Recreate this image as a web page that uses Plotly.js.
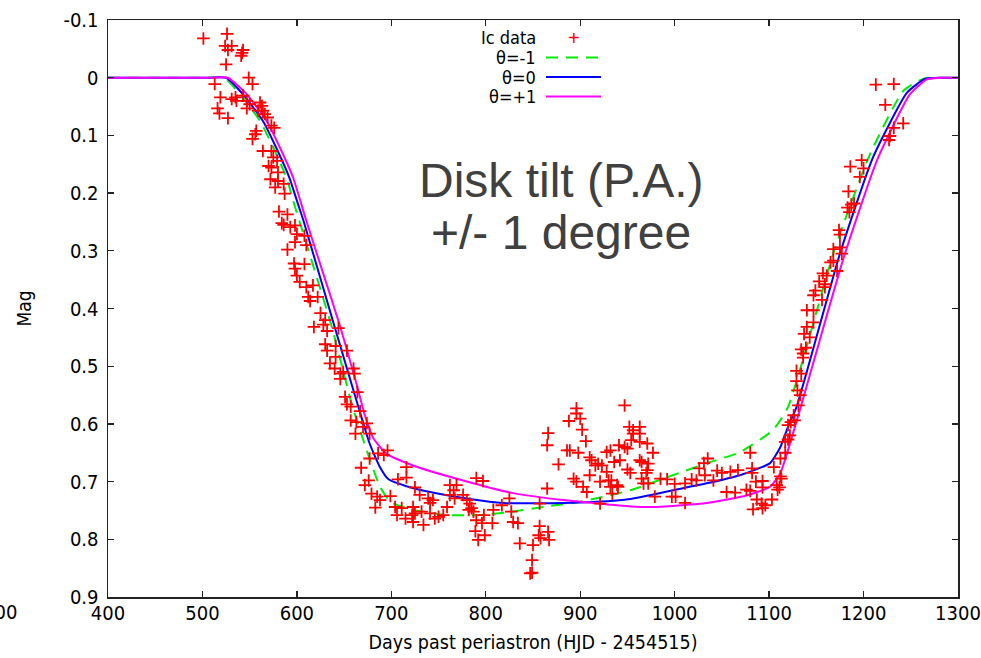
<!DOCTYPE html>
<html>
<head>
<meta charset="utf-8">
<script src="https://cdn.plot.ly/plotly-3.0.1.min.js"></script>
<style>
  html, body { margin: 0; padding: 0; background: #fff; }
  #chart { width: 981px; height: 658px; }
</style>
</head>
<body>
<div id="chart"></div>
<script>
// ---- Data ----
const xTicks = [400, 500, 600, 700, 800, 900, 1000, 1100, 1200, 1300];
const yTicks = [-0.1, 0, 0.1, 0.2, 0.3, 0.4, 0.5, 0.6, 0.7, 0.8, 0.9];
const yTickText = ["-0.1", "0", "0.1", "0.2", "0.3", "0.4", "0.5", "0.6", "0.7", "0.8", "0.9"];

// Ic photometry (days past periastron, magnitude)
const icDays = [
  501,526,524,531,527,543,542,541,525,549,553,513,519,531,536,535,543,547,516,518,527,547,550,561,563,564,566,569,559,573,576,557,556,553,564,573,575,579,570,573,580,572,580,577,586,587,581,590,
  584,586,593,598,600,598,608,610,590,597,608,598,600,603,610,617,612,614,622,625,630,628,618,632,644,630,632,641,653,641,635,640,646,646,660,661,649,651,664,667,
  653,657,657,663,662,670,677,674,677,686,692,696,668,676,672,679,685,688,683,699,707,716,716,725,730,739,744,741,704,711,706,715,723,725,722,732,723,734,741,746,750,755,759,762,769,766,762,767,776,780,783,785,782,787,790,797,790,796,798,808,807,789,799,792,817,825,827,829,834,836,850,857,866,856,858,867,849,847,849,857,
  896,896,888,900,902,866,865,947,906,886,889,898,877,910,912,916,919,923,928,932,936,942,941,947,952,956,963,963,956,954,963,971,977,950,963,965,972,971,970,950,953,928,933,930,932,939,940,934,921,910,893,896,903,907,965,967,972,985,992,979,997,1001,1000,1011,1011,1018,1023,1026,1031,1035,1032,1041,1045,921,865,
  1080,1050,1059,1067,1082,1082,1086,1093,1055,1064,1076,1080,1093,1087,1092,1096,1103,1083,1093,1105,1108,1111,1109,1112,1113,1112,1117,1117,1120,1122,1120,1123,1126,1127,1131,1130,1133,
  1213,1232,1223,1242,1232,1228,1227,1198,1186,1200,1196,1184,1183,1187,1185,1190,1174,1175,1168,1175,1177,1165,1168,1172,1157,1161,1153,1159,1149,1147,1156,1159,1140,1147,1147,1140,1137,1143,1134,1139,1136,1136,1129,1134,1129
];
const icMag = [
  -0.068,-0.076,-0.055,-0.055,-0.048,-0.048,-0.043,-0.038,-0.023,0.000,0.011,0.011,0.034,0.037,0.040,0.034,0.031,0.040,0.053,0.062,0.070,0.053,0.046,0.043,0.049,0.057,0.063,0.069,0.057,0.083,0.087,0.092,0.098,0.106,0.127,0.127,0.138,0.144,0.153,0.156,0.164,0.176,0.179,0.190,0.184,0.201,0.232,0.237,
  0.252,0.255,0.259,0.256,0.271,0.285,0.274,0.290,0.298,0.322,0.323,0.331,0.343,0.354,0.363,0.360,0.380,0.387,0.380,0.408,0.420,0.428,0.432,0.439,0.434,0.462,0.473,0.465,0.473,0.484,0.495,0.504,0.513,0.522,0.504,0.513,0.510,0.553,0.545,0.578,
  0.566,0.570,0.594,0.597,0.617,0.605,0.617,0.599,0.660,0.651,0.654,0.646,0.676,0.698,0.706,0.721,0.726,0.732,0.745,0.725,0.696,0.675,0.693,0.710,0.723,0.729,0.732,0.737,0.744,0.746,0.758,0.764,0.744,0.755,0.758,0.752,0.770,0.775,0.755,0.764,0.761,0.758,0.744,0.706,0.706,0.715,0.723,0.729,0.723,0.732,0.738,0.746,0.749,0.752,0.694,0.699,0.767,0.772,0.758,0.749,0.772,0.786,0.793,0.801,0.741,0.729,0.752,0.770,0.772,0.807,0.810,0.777,0.787,0.793,0.798,0.801,0.836,0.859,0.858,0.738,
  0.573,0.582,0.595,0.591,0.610,0.616,0.637,0.568,0.630,0.646,0.646,0.650,0.670,0.658,0.663,0.672,0.669,0.672,0.649,0.646,0.666,0.663,0.637,0.640,0.605,0.611,0.605,0.617,0.617,0.628,0.631,0.634,0.650,0.643,0.663,0.666,0.669,0.680,0.685,0.679,0.685,0.683,0.698,0.698,0.709,0.706,0.709,0.721,0.700,0.689,0.695,0.700,0.709,0.718,0.695,0.703,0.703,0.695,0.696,0.726,0.726,0.726,0.704,0.703,0.737,0.696,0.698,0.677,0.668,0.660,0.689,0.698,0.681,0.738,0.712,
  0.650,0.685,0.683,0.680,0.677,0.685,0.700,0.699,0.718,0.719,0.714,0.716,0.710,0.731,0.738,0.741,0.731,0.748,0.746,0.675,0.706,0.710,0.714,0.691,0.695,0.660,0.650,0.631,0.627,0.620,0.602,0.597,0.585,0.594,0.568,0.542,0.550,
  0.012,0.011,0.047,0.079,0.087,0.101,0.108,0.143,0.154,0.157,0.172,0.197,0.225,0.220,0.233,0.218,0.264,0.272,0.297,0.294,0.305,0.320,0.317,0.335,0.339,0.343,0.353,0.358,0.369,0.377,0.385,0.363,0.403,0.403,0.424,0.432,0.444,0.450,0.471,0.468,0.478,0.485,0.508,0.513,0.526
];

// Model: theta = -1 (green dashed)
const thetaM1Days = [400,460,505,523,540,561,575,589,596,637,659,674,688,699,723,759,794,829,865,900,953,998,1034,1069,1104,1120,1170,1207,1242,1263,1280,1300];
const thetaM1Mag  = [0,0,0,0,0.029,0.075,0.121,0.173,0.213,0.432,0.571,0.646,0.709,0.735,0.749,0.758,0.758,0.752,0.743,0.735,0.715,0.689,0.668,0.649,0.611,0.571,0.294,0.132,0.023,0.002,0,0];

// Model: theta = 0 (blue)
const theta0Days = [400,460,507,525,543,564,578,592,600,607,640,663,677,688,697,716,741,783,818,882,917,953,998,1034,1069,1101,1112,1120,1129,1175,1210,1246,1265,1282,1300];
const theta0Mag  = [0,0,0,0,0.029,0.075,0.121,0.173,0.213,0.248,0.432,0.559,0.634,0.675,0.696,0.708,0.718,0.730,0.737,0.737,0.735,0.730,0.715,0.703,0.689,0.668,0.640,0.605,0.571,0.305,0.138,0.026,0.002,0,0];

// Model: theta = +1 (magenta)
const thetaP1Days = [400,460,509,527,547,568,582,596,610,628,646,663,672,681,695,723,776,829,882,953,981,1034,1076,1101,1112,1119,1135,1178,1214,1249,1267,1284,1300];
const thetaP1Mag  = [0,0,0,0,0.029,0.075,0.121,0.173,0.248,0.340,0.432,0.530,0.585,0.625,0.652,0.672,0.698,0.720,0.732,0.743,0.744,0.737,0.724,0.709,0.685,0.651,0.562,0.317,0.144,0.029,0.003,0,0];

const legendLabels = ["Ic data", "\u03b8=-1", "\u03b8=0", "\u03b8=+1"];
const annotationLines = ["Disk tilt (P.A.)", "+/- 1 degree"];

// ---- Styling ----
const FONT = "'DejaVu Sans Condensed', 'Liberation Sans Narrow', 'DejaVu Sans', sans-serif";
const BIG = "'Liberation Sans', Arial, sans-serif";
const RED = "#ff0000", GREEN = "#00ee00", BLUE = "#0000ff", MAGENTA = "#ff00ff";

const traces = [
  { x: thetaM1Days, y: thetaM1Mag, mode: "lines", name: legendLabels[1],
    line: { color: GREEN, width: 2, dash: "12px,8px", shape: "spline", smoothing: 0.5 }, hoverinfo: "skip" },
  { x: theta0Days, y: theta0Mag, mode: "lines", name: legendLabels[2],
    line: { color: BLUE, width: 2, shape: "spline", smoothing: 0.5 }, hoverinfo: "skip" },
  { x: thetaP1Days, y: thetaP1Mag, mode: "lines", name: legendLabels[3],
    line: { color: MAGENTA, width: 2, shape: "spline", smoothing: 0.5 }, hoverinfo: "skip" },
  { x: icDays, y: icMag, mode: "markers", name: legendLabels[0],
    marker: { symbol: "cross-thin", size: 9, color: RED, line: { color: RED, width: 1.8 } }, hoverinfo: "skip" }
];

// plot area in px: left 108, right 958, top 20, bottom 597
const L = 108, R = 958, T = 20, B = 597;
const px = v => (v - L) / (R - L);
const py = v => (B - v) / (B - T);

const legRows = [38, 57.5, 77, 96.5];
const shapes = [
  { type: "line", xref: "paper", yref: "paper", x0: px(546), x1: px(601), y0: py(legRows[1]), y1: py(legRows[1]),
    line: { color: GREEN, width: 2, dash: "12px,8px" } },
  { type: "line", xref: "paper", yref: "paper", x0: px(546), x1: px(601), y0: py(legRows[2]), y1: py(legRows[2]),
    line: { color: BLUE, width: 2 } },
  { type: "line", xref: "paper", yref: "paper", x0: px(546), x1: px(601), y0: py(legRows[3]), y1: py(legRows[3]),
    line: { color: MAGENTA, width: 2 } }
];

const annotations = legendLabels.map((t, i) => ({
  xref: "paper", yref: "paper", x: px(537), y: py(legRows[i]), xanchor: "right", yanchor: "middle",
  text: t, showarrow: false, borderpad: 0, font: { family: FONT, size: 18, color: "#000" }
}));
annotations.push({
  xref: "paper", yref: "paper", x: px(573.5), y: py(legRows[0]), xanchor: "center", yanchor: "middle",
  text: "+", showarrow: false, borderpad: 0, font: { family: BIG, size: 20, color: RED }
});
annotations.push({
  xref: "paper", yref: "paper", x: px(561), y: py(180), xanchor: "center", yanchor: "middle",
  text: annotationLines[0], showarrow: false, font: { family: BIG, size: 48, color: "#404040" }
});
annotations.push({
  xref: "paper", yref: "paper", x: px(561), y: py(232), xanchor: "center", yanchor: "middle",
  text: annotationLines[1], showarrow: false, font: { family: BIG, size: 48, color: "#404040" }
});
// stray tick label the original plot shows beyond the left edge (clipped by the page, as in the original)
annotations.push({
  xref: "paper", yref: "paper", x: px(19), y: py(612), xanchor: "right", yanchor: "middle",
  text: "300", showarrow: false, font: { family: FONT, size: 20, color: "#000" }
});

const layout = {
  width: 981, height: 658,
  margin: { l: L, r: 981 - R, t: T, b: 658 - B, pad: 0 },
  paper_bgcolor: "#fff", plot_bgcolor: "#fff",
  showlegend: false,
  font: { family: FONT, size: 20, color: "#000" },
  xaxis: {
    range: [400, 1300], tickvals: xTicks, ticktext: xTicks.map(String),
    ticks: "inside", ticklen: 6, tickwidth: 1.3, tickcolor: "#222",
    mirror: "ticks", showline: true, linecolor: "#222", linewidth: 1.5,
    showgrid: false, zeroline: false, ticklabelstandoff: -3,
    tickfont: { family: FONT, size: 20, color: "#000" },
    title: { text: "Days past periastron (HJD - 2454515)", font: { family: FONT, size: 19.5, color: "#000" }, standoff: 12 }
  },
  yaxis: {
    range: [0.9, -0.1], tickvals: yTicks, ticktext: yTickText,
    ticks: "inside", ticklen: 6, tickwidth: 1.3, tickcolor: "#222",
    mirror: "ticks", showline: true, linecolor: "#222", linewidth: 1.5,
    showgrid: false, zeroline: false, ticklabelstandoff: 4,
    tickfont: { family: FONT, size: 20, color: "#000" },
    title: { text: "Mag", font: { family: FONT, size: 19, color: "#000" }, standoff: 26 }
  },
  shapes: shapes,
  annotations: annotations
};

Plotly.newPlot("chart", traces, layout, { staticPlot: true, displayModeBar: false });
</script>
</body>
</html>
